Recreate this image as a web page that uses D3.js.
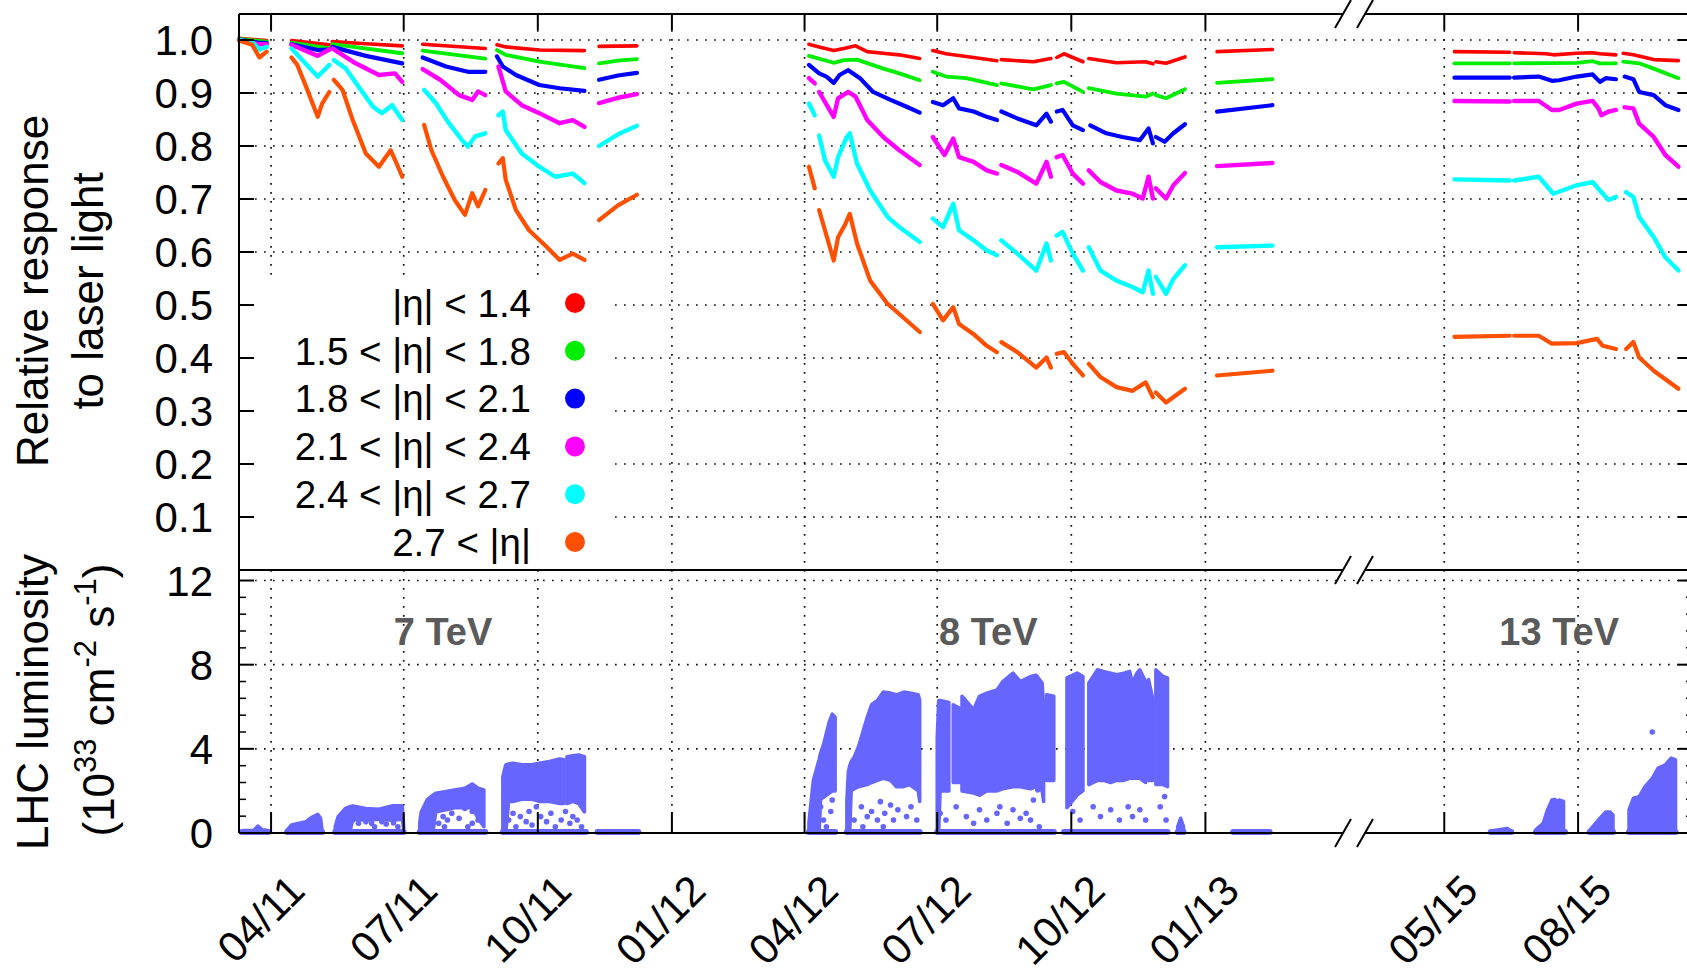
<!DOCTYPE html>
<html><head><meta charset="utf-8">
<script src="https://cdn.jsdelivr.net/npm/d3@7"></script>
<style>
html,body{margin:0;padding:0;background:#fff;}
svg{display:block;font-family:"Liberation Sans",Arial,Helvetica,sans-serif;}
</style></head><body>
<svg id="chart" width="1687" height="974"></svg>
<script>
// ---------------- DATA ----------------
const tickDates  = ["2011-04-01","2011-07-01","2011-10-01","2012-01-01","2012-04-01","2012-07-01","2012-10-01","2013-01-01","2015-05-01","2015-08-01"];
const tickLabels = ["04/11","07/11","10/11","01/12","04/12","07/12","10/12","01/13","05/15","08/15"];
const responseTicks = [0.1,0.2,0.3,0.4,0.5,0.6,0.7,0.8,0.9,1.0];
const lumiTicks = [0,4,8,12];
const seriesNames = ["|η| < 1.4","1.5 < |η| < 1.8","1.8 < |η| < 2.1","2.1 < |η| < 2.4","2.4 < |η| < 2.7","2.7 < |η|"];
const energyLabels = ["7 TeV","8 TeV","13 TeV"];
const energyDates  = ["2011-07-28","2012-08-05","2015-07-19"];

const resp_eta14 = [
 [["2011-03-10",1.003],["2011-03-29",0.999]],
 [["2011-04-15",0.999],["2011-05-11",0.991]],
 [["2011-05-13",0.997],["2011-06-05",0.993],["2011-06-30",0.989]],
 [["2011-07-14",0.992],["2011-08-26",0.984]],
 [["2011-09-03",0.991],["2011-09-09",0.987],["2011-10-02",0.981],["2011-11-02",0.980]],
 [["2011-11-12",0.988],["2011-12-08",0.989]],
 [["2012-04-04",0.992],["2012-04-11",0.987],["2012-04-21",0.980],["2012-04-28",0.984],["2012-05-06",0.989],["2012-05-14",0.978],["2012-05-28",0.974],["2012-06-05",0.972],["2012-06-19",0.965]],
 [["2012-06-28",0.980],["2012-07-07",0.974],["2012-07-21",0.969],["2012-08-11",0.961]],
 [["2012-08-14",0.963],["2012-09-05",0.959],["2012-09-17",0.965]],
 [["2012-09-21",0.967],["2012-09-26",0.974],["2012-10-09",0.959]],
 [["2012-10-13",0.965],["2012-11-01",0.957],["2012-11-21",0.959],["2012-11-26",0.955]],
 [["2012-11-28",0.959],["2012-12-05",0.956],["2012-12-18",0.968]],
 [["2013-01-09",0.978],["2013-02-16",0.982]],
 [["2015-05-08",0.978],["2015-06-15",0.977]],
 [["2015-06-18",0.976],["2015-07-10",0.974],["2015-07-15",0.972],["2015-07-31",0.975],["2015-08-11",0.976],["2015-08-16",0.974],["2015-08-27",0.972]],
 [["2015-09-01",0.975],["2015-09-08",0.972],["2015-09-22",0.963],["2015-10-09",0.961]]
];
const resp_eta15_18 = [
 [["2011-03-10",1.002],["2011-03-29",0.997]],
 [["2011-04-15",0.995],["2011-05-11",0.984]],
 [["2011-05-13",0.992],["2011-06-30",0.975]],
 [["2011-07-14",0.980],["2011-08-26",0.965]],
 [["2011-09-03",0.981],["2011-09-09",0.972],["2011-10-02",0.959],["2011-11-02",0.947]],
 [["2011-11-12",0.956],["2011-11-25",0.961],["2011-12-08",0.964]],
 [["2012-04-04",0.970],["2012-04-21",0.957],["2012-04-28",0.962],["2012-05-07",0.963],["2012-05-25",0.946],["2012-06-05",0.937],["2012-06-19",0.924]],
 [["2012-06-28",0.940],["2012-07-07",0.931],["2012-07-21",0.928],["2012-08-11",0.915]],
 [["2012-08-14",0.918],["2012-09-05",0.907],["2012-09-17",0.915]],
 [["2012-09-21",0.918],["2012-09-26",0.921],["2012-10-09",0.902]],
 [["2012-10-13",0.909],["2012-11-01",0.899],["2012-11-21",0.893],["2012-11-26",0.899]],
 [["2012-11-28",0.896],["2012-12-05",0.890],["2012-12-18",0.907]],
 [["2013-01-09",0.919],["2013-02-16",0.926]],
 [["2015-05-08",0.956],["2015-06-15",0.956]],
 [["2015-06-18",0.956],["2015-07-31",0.957],["2015-08-11",0.960],["2015-08-16",0.956],["2015-08-27",0.956]],
 [["2015-09-01",0.959],["2015-09-12",0.956],["2015-09-22",0.946],["2015-10-09",0.928]]
];
const resp_eta18_21 = [
 [["2011-03-10",1.001],["2011-03-23",0.995],["2011-03-29",0.994]],
 [["2011-04-15",0.992],["2011-05-03",0.981],["2011-05-11",0.982]],
 [["2011-05-13",0.987],["2011-06-05",0.970],["2011-06-30",0.956]],
 [["2011-07-14",0.967],["2011-07-30",0.950],["2011-08-14",0.940],["2011-08-26",0.940]],
 [["2011-09-03",0.969],["2011-09-07",0.950],["2011-09-16",0.934],["2011-10-02",0.915],["2011-10-16",0.909],["2011-11-02",0.904]],
 [["2011-11-12",0.925],["2011-11-25",0.933],["2011-12-08",0.938]],
 [["2012-04-04",0.953],["2012-04-11",0.937],["2012-04-16",0.931],["2012-04-21",0.919],["2012-04-25",0.934],["2012-05-01",0.943],["2012-05-09",0.928],["2012-05-18",0.902],["2012-05-30",0.887],["2012-06-10",0.874],["2012-06-19",0.863]],
 [["2012-06-28",0.883],["2012-07-05",0.877],["2012-07-12",0.890],["2012-07-16",0.871],["2012-07-26",0.865],["2012-08-04",0.855],["2012-08-11",0.849]],
 [["2012-08-14",0.865],["2012-08-25",0.852],["2012-09-07",0.839],["2012-09-14",0.861],["2012-09-17",0.846]],
 [["2012-09-21",0.865],["2012-09-25",0.868],["2012-10-02",0.839],["2012-10-09",0.830]],
 [["2012-10-14",0.839],["2012-10-25",0.824],["2012-11-05",0.817],["2012-11-17",0.811],["2012-11-23",0.833],["2012-11-26",0.805]],
 [["2012-11-28",0.817],["2012-12-04",0.808],["2012-12-10",0.824],["2012-12-18",0.841]],
 [["2013-01-09",0.865],["2013-02-16",0.877]],
 [["2015-05-08",0.929],["2015-06-15",0.929]],
 [["2015-06-18",0.929],["2015-07-05",0.931],["2015-07-14",0.923],["2015-07-19",0.924],["2015-07-31",0.931],["2015-08-11",0.935],["2015-08-16",0.921],["2015-08-20",0.928],["2015-08-27",0.926]],
 [["2015-09-02",0.931],["2015-09-08",0.926],["2015-09-12",0.902],["2015-09-22",0.896],["2015-09-30",0.877],["2015-10-09",0.868]]
];
const resp_eta21_24 = [
 [["2011-03-10",1.000],["2011-03-23",0.992],["2011-03-29",0.992]],
 [["2011-04-15",0.991],["2011-05-03",0.970],["2011-05-11",0.982]],
 [["2011-05-13",0.984],["2011-05-29",0.956],["2011-06-14",0.934],["2011-06-25",0.937],["2011-06-30",0.921]],
 [["2011-07-14",0.945],["2011-07-26",0.925],["2011-08-08",0.896],["2011-08-17",0.887],["2011-08-21",0.903],["2011-08-26",0.896]],
 [["2011-09-04",0.950],["2011-09-09",0.903],["2011-09-20",0.877],["2011-10-02",0.862],["2011-10-16",0.843],["2011-10-25",0.849],["2011-11-02",0.836]],
 [["2011-11-12",0.881],["2011-11-25",0.891],["2011-12-08",0.898]],
 [["2012-04-04",0.928],["2012-04-08",0.918]],
 [["2012-04-11",0.902],["2012-04-15",0.883],["2012-04-21",0.855],["2012-04-24",0.890],["2012-05-01",0.902],["2012-05-06",0.893],["2012-05-14",0.849],["2012-05-25",0.817],["2012-06-05",0.792],["2012-06-19",0.764]],
 [["2012-06-28",0.817],["2012-07-06",0.783],["2012-07-12",0.814],["2012-07-16",0.779],["2012-07-26",0.770],["2012-08-04",0.754],["2012-08-11",0.748]],
 [["2012-08-14",0.764],["2012-08-25",0.751],["2012-09-07",0.729],["2012-09-14",0.770],["2012-09-17",0.742]],
 [["2012-09-21",0.779],["2012-09-25",0.783],["2012-10-02",0.748],["2012-10-09",0.729]],
 [["2012-10-13",0.754],["2012-10-21",0.732],["2012-11-01",0.716],["2012-11-12",0.710],["2012-11-19",0.701],["2012-11-23",0.742],["2012-11-26",0.701]],
 [["2012-11-28",0.720],["2012-12-05",0.701],["2012-12-10",0.726],["2012-12-18",0.749]],
 [["2013-01-09",0.762],["2013-02-16",0.768]],
 [["2015-05-08",0.885],["2015-06-15",0.884]],
 [["2015-06-18",0.885],["2015-07-05",0.885],["2015-07-14",0.868],["2015-07-19",0.868],["2015-07-31",0.880],["2015-08-11",0.885],["2015-08-15",0.871],["2015-08-17",0.858],["2015-08-22",0.865],["2015-08-27",0.868]],
 [["2015-09-02",0.873],["2015-09-08",0.871],["2015-09-12",0.842],["2015-09-22",0.817],["2015-09-30",0.783],["2015-10-09",0.761]]
];
const resp_eta24_27 = [
 [["2011-03-10",1.000],["2011-03-20",0.994],["2011-03-24",0.982],["2011-03-29",0.987]],
 [["2011-04-15",0.984],["2011-05-03",0.931],["2011-05-11",0.953]],
 [["2011-05-14",0.962],["2011-05-22",0.947],["2011-05-31",0.912],["2011-06-10",0.874],["2011-06-16",0.862],["2011-06-23",0.877],["2011-06-30",0.849]],
 [["2011-07-15",0.906],["2011-07-23",0.881],["2011-08-01",0.843],["2011-08-10",0.811],["2011-08-14",0.799],["2011-08-19",0.818],["2011-08-26",0.824]],
 [["2011-09-04",0.858],["2011-09-07",0.865],["2011-09-09",0.830],["2011-09-20",0.786],["2011-10-02",0.761],["2011-10-13",0.742],["2011-10-25",0.748],["2011-11-02",0.730]],
 [["2011-11-12",0.800],["2011-11-25",0.822],["2011-12-08",0.838]],
 [["2012-04-04",0.880],["2012-04-08",0.858]],
 [["2012-04-11",0.820],["2012-04-15",0.773],["2012-04-21",0.742],["2012-04-24",0.779],["2012-04-30",0.817],["2012-05-02",0.824],["2012-05-07",0.767],["2012-05-16",0.716],["2012-05-28",0.666],["2012-06-05",0.647],["2012-06-19",0.619]],
 [["2012-06-28",0.663],["2012-07-05",0.647],["2012-07-12",0.691],["2012-07-16",0.641],["2012-07-26",0.622],["2012-08-04",0.603],["2012-08-11",0.594]],
 [["2012-08-14",0.622],["2012-08-25",0.597],["2012-09-07",0.565],["2012-09-14",0.616],["2012-09-17",0.584]],
 [["2012-09-21",0.631],["2012-09-25",0.638],["2012-10-02",0.597],["2012-10-09",0.565]],
 [["2012-10-13",0.609],["2012-10-21",0.565],["2012-11-01",0.546],["2012-11-12",0.534],["2012-11-19",0.524],["2012-11-23",0.565],["2012-11-26",0.521]],
 [["2012-11-28",0.553],["2012-12-05",0.521],["2012-12-10",0.549],["2012-12-18",0.575]],
 [["2013-01-09",0.609],["2013-02-16",0.612]],
 [["2015-05-08",0.737],["2015-06-15",0.735]],
 [["2015-06-18",0.735],["2015-07-05",0.742],["2015-07-10",0.726],["2015-07-15",0.710],["2015-07-31",0.726],["2015-08-11",0.732],["2015-08-16",0.716],["2015-08-22",0.698],["2015-08-27",0.704]],
 [["2015-09-03",0.713],["2015-09-08",0.704],["2015-09-12",0.666],["2015-09-22",0.628],["2015-09-30",0.590],["2015-10-09",0.565]]
];
const resp_eta27 = [
 [["2011-03-10",0.999],["2011-03-19",0.991],["2011-03-24",0.967],["2011-03-29",0.978]],
 [["2011-04-15",0.967],["2011-04-19",0.953],["2011-04-25",0.912],["2011-05-03",0.855],["2011-05-06",0.880],["2011-05-11",0.902]],
 [["2011-05-14",0.925],["2011-05-20",0.906],["2011-05-27",0.849],["2011-06-05",0.786],["2011-06-14",0.761],["2011-06-22",0.792],["2011-06-25",0.774],["2011-06-30",0.742]],
 [["2011-07-15",0.840],["2011-07-20",0.792],["2011-07-28",0.742],["2011-08-05",0.698],["2011-08-12",0.670],["2011-08-17",0.711],["2011-08-21",0.686],["2011-08-26",0.717]],
 [["2011-09-04",0.767],["2011-09-07",0.777],["2011-09-09",0.736],["2011-09-16",0.679],["2011-09-25",0.641],["2011-10-07",0.610],["2011-10-16",0.585],["2011-10-25",0.597],["2011-11-02",0.585]],
 [["2011-11-12",0.660],["2011-11-25",0.688],["2011-12-08",0.708]],
 [["2012-04-04",0.761],["2012-04-08",0.720]],
 [["2012-04-11",0.679],["2012-04-15",0.641],["2012-04-21",0.584],["2012-04-24",0.628],["2012-04-29",0.653],["2012-05-02",0.672],["2012-05-07",0.616],["2012-05-16",0.546],["2012-05-28",0.502],["2012-06-05",0.483],["2012-06-19",0.449]],
 [["2012-06-28",0.502],["2012-07-05",0.471],["2012-07-12",0.496],["2012-07-16",0.464],["2012-07-26",0.445],["2012-08-04",0.423],["2012-08-11",0.411]],
 [["2012-08-14",0.430],["2012-08-25",0.411],["2012-09-07",0.382],["2012-09-14",0.401],["2012-09-17",0.382]],
 [["2012-09-21",0.408],["2012-09-26",0.411],["2012-10-02",0.389],["2012-10-09",0.367]],
 [["2012-10-13",0.389],["2012-10-21",0.364],["2012-11-01",0.345],["2012-11-12",0.338],["2012-11-21",0.354],["2012-11-26",0.326]],
 [["2012-11-28",0.335],["2012-12-05",0.316],["2012-12-18",0.342]],
 [["2013-01-09",0.367],["2013-02-16",0.376]],
 [["2015-05-08",0.440],["2015-06-15",0.442]],
 [["2015-06-18",0.442],["2015-07-05",0.442],["2015-07-14",0.427],["2015-07-31",0.428],["2015-08-14",0.436],["2015-08-18",0.423],["2015-08-27",0.417]],
 [["2015-09-03",0.417],["2015-09-08",0.430],["2015-09-12",0.401],["2015-09-22",0.376],["2015-09-30",0.360],["2015-10-09",0.342]]
];

// luminosity: dense blocks [date, upper, lower] (10^33 cm^-2 s^-1)
const lumiBlocks = [
 [["2011-03-13",0.12,0],["2011-03-20",0.12,0],["2011-03-23",0.33,0],["2011-03-26",0.15,0],["2011-03-30",0.12,0]],
 [["2011-04-12",0.15,0],["2011-04-13",0.22,0],["2011-04-15",0.38,0],["2011-04-25",0.54,0],["2011-04-29",0.75,0],["2011-05-03",0.89,0],["2011-05-05",0.70,0],["2011-05-06",0.12,0]],
 [["2011-05-15",0.30,0],["2011-05-17",0.78,0],["2011-05-22",1.17,0],["2011-05-25",1.25,0],["2011-05-27",1.29,0.65],["2011-06-05",1.17,0.60],["2011-06-14",1.13,0.65],["2011-06-23",1.29,0.60],["2011-06-30",1.29,0.65],["2011-07-01",0.30,0.20]],
 [["2011-07-12",0.50,0],["2011-07-13",1.00,0],["2011-07-17",1.57,0],["2011-07-21",1.80,0],["2011-07-23",1.89,1.0],["2011-07-30",1.97,1.1],["2011-08-05",2.05,1.2],["2011-08-12",2.13,1.2],["2011-08-17",2.33,1.2],["2011-08-21",2.13,0.7],["2011-08-25",2.05,0.3]],
 [["2011-09-07",2.68,0],["2011-09-09",3.24,0],["2011-09-11",3.28,1.5],["2011-09-14",3.32,1.5],["2011-09-20",3.24,1.6],["2011-09-27",3.24,1.6],["2011-10-02",3.32,1.5],["2011-10-09",3.40,1.5],["2011-10-16",3.52,1.4],["2011-10-19",3.48,1.4]],
 [["2011-10-21",3.63,1.4],["2011-10-25",3.67,1.5],["2011-10-29",3.71,1.4],["2011-11-02",3.63,1.0]],
 [["2012-04-04",0.5,0],["2012-04-07",2.5,0],["2012-04-11",3.5,0],["2012-04-12",3.8,1.6],["2012-04-14",4.2,1.7],["2012-04-18",5.3,1.9],["2012-04-20",5.65,2.0],["2012-04-22",5.5,2.0]],
 [["2012-04-30",1.5,0],["2012-05-01",2.9,0],["2012-05-02",3.2,0],["2012-05-03",3.4,2.0],["2012-05-05",3.6,2.1],["2012-05-08",4.1,2.2],["2012-05-14",5.5,2.3],["2012-05-17",6.1,2.4],["2012-05-21",6.3,2.5],["2012-05-25",6.7,2.6],["2012-05-30",6.65,2.5],["2012-06-03",6.57,2.2],["2012-06-08",6.7,2.2],["2012-06-12",6.65,2.3],["2012-06-18",6.57,2.0],["2012-06-19",6.3,1.5]],
 [["2012-07-01",4.5,0],["2012-07-02",6.3,0],["2012-07-03",6.3,2.0],["2012-07-09",6.2,2.0]],
 [["2012-07-12",6.1,2.4],["2012-07-17",5.9,2.4]],
 [["2012-07-18",6.5,2.0],["2012-07-26",5.86,1.9],["2012-07-30",6.5,1.8],["2012-08-04",6.65,2.0],["2012-08-11",6.8,2.0],["2012-08-15",7.2,2.1],["2012-08-22",7.6,2.2],["2012-08-27",7.2,2.2],["2012-09-03",7.44,2.1],["2012-09-07",7.5,2.2],["2012-09-11",7.13,2.0],["2012-09-12",6.0,1.5]],
 [["2012-09-14",6.57,2.5],["2012-09-19",6.5,2.5]],
 [["2012-09-28",7.37,1.2],["2012-10-05",7.6,1.8],["2012-10-09",7.44,2.0]],
 [["2012-10-13",7.13,2.3],["2012-10-19",7.76,2.5],["2012-10-23",7.68,2.5],["2012-10-28",7.6,2.4],["2012-11-01",7.52,2.5],["2012-11-06",7.6,2.5],["2012-11-10",7.68,2.6],["2012-11-12",7.13,2.6],["2012-11-15",7.6,2.6],["2012-11-17",7.76,2.6],["2012-11-21",7.2,2.4]],
 [["2012-11-23",7.29,2.5],["2012-11-26",6.33,2.5]],
 [["2012-11-28",7.76,2.3],["2012-12-03",7.44,2.3],["2012-12-06",7.37,2.2]],
 [["2012-12-13",0.3,0],["2012-12-15",0.7,0],["2012-12-17",0.3,0]],
 [["2015-06-02",0.1,0],["2015-06-13",0.22,0],["2015-06-16",0.1,0]],
 [["2015-07-03",0.15,0],["2015-07-04",0.22,0],["2015-07-08",0.46,0],["2015-07-11",1.1,0],["2015-07-14",1.57,0],["2015-07-16",1.6,0],["2015-07-17",1.55,0]],
 [["2015-07-19",1.57,0],["2015-07-22",1.5,0]],
 [["2015-08-09",0.14,0],["2015-08-13",0.46,0],["2015-08-17",0.78,0],["2015-08-20",1.0,0],["2015-08-23",1.0,0],["2015-08-25",0.86,0]],
 [["2015-09-05",1.1,0],["2015-09-08",1.65,0],["2015-09-12",1.73,0],["2015-09-16",2.2,0],["2015-09-21",2.6,0],["2015-09-25",3.08,0],["2015-09-30",3.24,0],["2015-10-04",3.56,0],["2015-10-07",3.48,0]]
];
const lumiBaseRuns = [["2011-03-12","2011-03-30"],["2011-04-12","2011-05-06"],["2011-05-15","2011-07-01"],["2011-07-12","2011-08-26"],["2011-09-07","2011-11-03"],["2011-11-11","2011-12-09"],["2012-04-04","2012-04-22"],["2012-04-30","2012-06-19"],["2012-07-01","2012-09-19"],["2012-09-26","2012-12-06"],["2012-12-13","2012-12-17"],["2013-01-20","2013-02-14"],["2015-06-02","2015-06-16"],["2015-07-03","2015-07-23"],["2015-08-09","2015-08-25"],["2015-09-05","2015-10-07"]];
const lumiSparse = [
 ["2011-05-27",0.62],["2011-05-31",0.46],["2011-06-05",0.54],["2011-06-09",0.46],["2011-06-11",0.30],["2011-06-16",0.54],["2011-06-19",0.43],["2011-06-24",0.49],["2011-06-27",0.30],
 ["2011-07-25",0.46],["2011-07-28",0.78],["2011-07-29",0.30],["2011-07-31",0.62],["2011-08-03",0.94],["2011-08-08",0.70],["2011-08-12",1.17],["2011-08-14",0.30],["2011-08-17",1.02],["2011-08-17",0.46],["2011-08-21",0.62],
 ["2011-09-11",0.62],["2011-09-14",0.94],["2011-09-16",0.30],["2011-09-19",0.78],["2011-09-23",0.54],["2011-09-25",1.02],["2011-09-27",0.38],["2011-09-30",1.25],["2011-10-03",0.78],["2011-10-07",0.54],["2011-10-10",0.94],["2011-10-13",0.30],["2011-10-17",0.62],["2011-10-20",1.02],["2011-10-23",0.46],["2011-10-25",0.78],["2011-10-28",0.62],["2011-10-31",0.30],
 ["2012-04-12",1.25],["2012-04-14",0.62],["2012-04-19",1.02],["2012-04-20",1.57],["2012-04-16",0.30],
 ["2012-05-05",0.62],["2012-05-10",1.25],["2012-05-14",0.78],["2012-05-17",1.02],["2012-05-21",0.62],["2012-05-23",1.49],["2012-05-26",0.94],["2012-05-30",1.33],["2012-06-01",0.62],["2012-06-04",1.10],["2012-06-10",0.78],["2012-06-13",1.25],["2012-06-17",0.62],["2012-05-11",0.30],["2012-05-25",0.30],
 ["2012-07-03",0.94],["2012-07-07",0.62],["2012-07-14",1.25],["2012-07-21",0.78],["2012-07-26",0.46],["2012-07-30",1.10],["2012-08-04",0.62],["2012-08-11",0.94],["2012-08-18",0.46],["2012-08-22",1.10],["2012-08-27",0.70],["2012-08-31",0.94],["2012-09-05",1.57],["2012-09-08",2.05],["2012-09-03",0.62],["2012-09-09",0.30],["2012-08-13",1.25],
 ["2012-10-02",1.02],["2012-10-07",0.62],["2012-10-16",1.25],["2012-10-21",0.78],["2012-10-28",1.10],["2012-11-03",0.62],["2012-11-09",1.25],["2012-11-12",0.78],["2012-11-17",1.10],["2012-11-21",0.62],["2012-12-01",1.25],["2012-12-04",1.73],["2012-12-05",0.62],
 ["2015-09-21",4.8]
];

const responseSeries = [resp_eta14, resp_eta15_18, resp_eta18_21, resp_eta21_24, resp_eta24_27, resp_eta27];
const seriesColors = ["#ff0000","#00ee00","#0000ff","#ff00ff","#00ffff","#ff4f00"];
const seriesWidths = [3.6, 3.8, 4.2, 4.4, 4.4, 4.2];
const LUMI = "#6666ff";

// ---------------- LAYOUT ----------------
const X0 = 239, XB = 1357, X1 = 1693;
const TOP = 14, MID = 570, BOT = 833;
const P = d3.utcParse("%Y-%m-%d");

const x = d3.scaleUtc()
  .domain([P("2011-03-10"), P("2013-04-15"), P("2015-03-02"), P("2015-10-19")])
  .range([X0, XB, XB, X1]);
const yR = d3.scaleLinear().domain([0, 1.05]).range([MID, 13.5]);
const yL = d3.scaleLinear().domain([0, 12.5]).range([BOT, MID]);

const svg = d3.select("#chart");
svg.append("rect").attr("width",1687).attr("height",974).attr("fill","#fff");

// grid
const gGrid = svg.append("g").attr("stroke","#111").attr("stroke-width",1.7).attr("stroke-dasharray","1.7 7.3");
responseTicks.forEach(v => gGrid.append("line").attr("x1",X0+16).attr("x2",X1).attr("y1",yR(v)).attr("y2",yR(v)));
lumiTicks.filter(v => v > 0).forEach(v => gGrid.append("line").attr("x1",X0+16).attr("x2",X1).attr("y1",yL(v)).attr("y2",yL(v)));
tickDates.forEach(d => {
  const xx = x(P(d));
  gGrid.append("line").attr("x1",xx).attr("x2",xx).attr("y1",TOP+16).attr("y2",MID);
  gGrid.append("line").attr("x1",xx).attr("x2",xx).attr("y1",MID).attr("y2",BOT-21);
});

// legend background (covers grid)
svg.append("rect").attr("x",X0+2).attr("y",279).attr("width",374).attr("height",MID-279-1).attr("fill","#fff");

// luminosity
const gL = svg.append("g");
const area = d3.area().x(d => x(P(d[0]))).y0(d => yL(d[2])).y1(d => yL(d[1]));
lumiBlocks.forEach(b => gL.append("path").attr("d", area(b))
  .attr("fill", LUMI).attr("stroke", LUMI).attr("stroke-width", 3.5).attr("stroke-linejoin","round"));
lumiBaseRuns.forEach(r => gL.append("line")
  .attr("x1", x(P(r[0]))).attr("x2", x(P(r[1]))).attr("y1", yL(0)-1).attr("y2", yL(0)-1)
  .attr("stroke", LUMI).attr("stroke-width", 6).attr("stroke-linecap","round"));
gL.selectAll("circle").data(lumiSparse).join("circle")
  .attr("cx", d => x(P(d[0]))).attr("cy", d => yL(d[1])).attr("r", 2.8).attr("fill", LUMI);

// response curves
const line = d3.line().x(d => x(P(d[0]))).y(d => yR(d[1]));
const gR = svg.append("g").attr("fill","none").attr("stroke-linejoin","round").attr("stroke-linecap","round");
responseSeries.forEach((series, i) => {
  series.forEach(seg => gR.append("path").attr("d", line(seg)).attr("stroke", seriesColors[i]).attr("stroke-width", seriesWidths[i]));
});

// frame
const gF = svg.append("g").attr("stroke","#000").attr("stroke-width",2).attr("fill","none");
const bx1 = 1343, bx2 = 1365;
[TOP, MID, BOT].forEach(yy => {
  gF.append("line").attr("x1",X0).attr("x2",bx1).attr("y1",yy).attr("y2",yy);
  gF.append("line").attr("x1",bx2).attr("x2",X1).attr("y1",yy).attr("y2",yy);
  [bx1, bx2].forEach(cx => gF.append("line").attr("x1",cx-8).attr("y1",yy+14).attr("x2",cx+8).attr("y2",yy-14));
});
gF.append("line").attr("x1",X0).attr("x2",X0).attr("y1",TOP).attr("y2",BOT);
gF.append("line").attr("x1",X1).attr("x2",X1).attr("y1",TOP).attr("y2",BOT);

// ticks
const gT = svg.append("g").attr("stroke","#000").attr("stroke-width",2);
responseTicks.forEach(v => {
  gT.append("line").attr("x1",X0).attr("x2",X0+15).attr("y1",yR(v)).attr("y2",yR(v));
  gT.append("line").attr("x1",X1-15).attr("x2",X1).attr("y1",yR(v)).attr("y2",yR(v));
});
const lumiMinor = d3.range(0.8, 12.5, 0.8).filter(v => Math.abs(v/4 - Math.round(v/4)) > 1e-6);
lumiTicks.forEach(v => {
  gT.append("line").attr("x1",X0).attr("x2",X0+15).attr("y1",yL(v)).attr("y2",yL(v));
  gT.append("line").attr("x1",X1-15).attr("x2",X1).attr("y1",yL(v)).attr("y2",yL(v));
});
lumiMinor.forEach(v => {
  gT.append("line").attr("x1",X0).attr("x2",X0+7).attr("y1",yL(v)).attr("y2",yL(v)).attr("stroke-width",1.5);
  gT.append("line").attr("x1",X1-7).attr("x2",X1).attr("y1",yL(v)).attr("y2",yL(v)).attr("stroke-width",1.5);
});
tickDates.forEach(d => {
  const xx = x(P(d));
  gT.append("line").attr("x1",xx).attr("x2",xx).attr("y1",TOP).attr("y2",TOP+16);
  gT.append("line").attr("x1",xx).attr("x2",xx).attr("y1",BOT-21).attr("y2",BOT);
});

// tick labels
const gTxt = svg.append("g").attr("fill","#000").attr("font-size",42);
responseTicks.forEach(v => gTxt.append("text").attr("x",213).attr("y",yR(v)).attr("dy","0.36em")
  .attr("text-anchor","end").text(d3.format(".1f")(v)));
lumiTicks.forEach(v => gTxt.append("text").attr("x",213).attr("y",yL(v)).attr("dy","0.36em")
  .attr("text-anchor","end").text(v));
tickDates.forEach((d, i) => {
  const xx = x(P(d)) + 36;
  gTxt.append("text").attr("transform",`translate(${xx},893) rotate(-45)`)
    .attr("font-size",42).attr("text-anchor","end").text(tickLabels[i]);
});

// axis titles
const gTitle = svg.append("g").attr("fill","#000").attr("font-size",44).attr("text-anchor","middle");
gTitle.append("text").attr("transform","translate(48,291) rotate(-90)").text("Relative response");
gTitle.append("text").attr("transform","translate(103,291) rotate(-90)").text("to laser light");
gTitle.append("text").attr("transform","translate(48,702) rotate(-90)").text("LHC luminosity");
const t2 = gTitle.append("text").attr("transform","translate(114,700) rotate(-90)");
t2.append("tspan").text("(10");
t2.append("tspan").attr("font-size",31).attr("dy",-18).text("33");
t2.append("tspan").attr("dy",18).text(" cm");
t2.append("tspan").attr("font-size",31).attr("dy",-18).text("-2");
t2.append("tspan").attr("dy",18).text(" s");
t2.append("tspan").attr("font-size",31).attr("dy",-18).text("-1");
t2.append("tspan").attr("dy",18).text(")");

// energy labels
const gE = svg.append("g").attr("fill","#5a5a5a").attr("font-size",38).attr("font-weight","bold").attr("text-anchor","middle");
energyLabels.forEach((t, i) => gE.append("text").attr("x", x(P(energyDates[i]))).attr("y", yL(8.95)).text(t));

// legend
const gLeg = svg.append("g").attr("font-size",38.5);
seriesNames.forEach((name, i) => {
  const cy = 303 + i * 47.8;
  gLeg.append("text").attr("x",531).attr("y",cy).attr("dy","0.36em").attr("text-anchor","end").attr("fill","#000").text(name);
  gLeg.append("circle").attr("cx",575).attr("cy",cy).attr("r",10).attr("fill",seriesColors[i]);
});
</script></body></html>
